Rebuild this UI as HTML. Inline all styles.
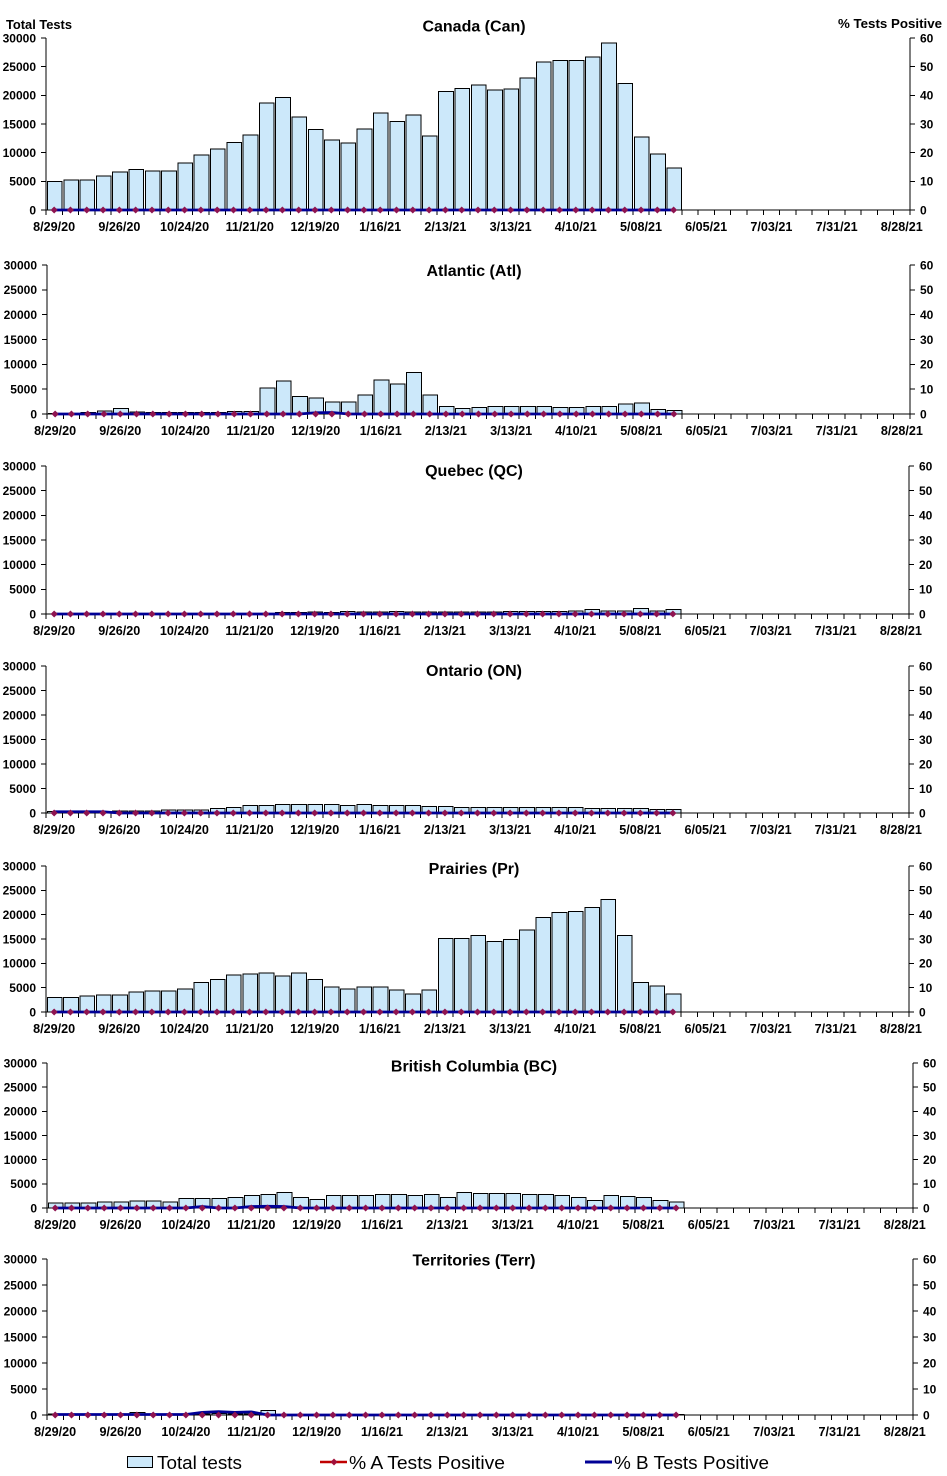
<!DOCTYPE html>
<html><head><meta charset="utf-8">
<style>
html,body{margin:0;padding:0;background:#fff;}
svg{display:block;}
text{font-family:"Liberation Sans",Arial,sans-serif;fill:#000;}
.yl{font-weight:bold;font-size:12px;text-anchor:end;}
.yr{font-weight:bold;font-size:12px;text-anchor:start;}
.xl{font-weight:bold;font-size:12.6px;text-anchor:middle;}
.ti{font-weight:bold;font-size:16px;text-anchor:middle;}
.lg{font-size:18px;}
.bar{fill:#cce8fa;stroke:#000;stroke-width:1;shape-rendering:crispEdges;}
.ax{fill:none;stroke:#000;stroke-width:1;shape-rendering:crispEdges;}
.bl{fill:none;stroke:#000096;stroke-width:2.8;}
</style></head>
<body>
<svg width="947" height="1476" viewBox="0 0 947 1476" xmlns="http://www.w3.org/2000/svg">
<defs>
<path id="tk" fill="none" stroke="#000" stroke-width="1" shape-rendering="crispEdges" vector-effect="non-scaling-stroke" d="M0 0v5M1 0v5M2 0v5M3 0v5M4 0v5M5 0v5M6 0v5M7 0v5M8 0v5M9 0v5M10 0v5M11 0v5M12 0v5M13 0v5M14 0v5M15 0v5M16 0v5M17 0v5M18 0v5M19 0v5M20 0v5M21 0v5M22 0v5M23 0v5M24 0v5M25 0v5M26 0v5M27 0v5M28 0v5M29 0v5M30 0v5M31 0v5M32 0v5M33 0v5M34 0v5M35 0v5M36 0v5M37 0v5M38 0v5M39 0v5M40 0v5M41 0v5M42 0v5M43 0v5M44 0v5M45 0v5M46 0v5M47 0v5M48 0v5M49 0v5M50 0v5M51 0v5M52 0v5M53 0v5"/>
<path id="dm" fill="#8e1450" d="M.5-3.5l.22 3.5-.22 3.5-.22-3.5zm1 0l.22 3.5-.22 3.5-.22-3.5zm1 0l.22 3.5-.22 3.5-.22-3.5zm1 0l.22 3.5-.22 3.5-.22-3.5zm1 0l.22 3.5-.22 3.5-.22-3.5zm1 0l.22 3.5-.22 3.5-.22-3.5zm1 0l.22 3.5-.22 3.5-.22-3.5zm1 0l.22 3.5-.22 3.5-.22-3.5zm1 0l.22 3.5-.22 3.5-.22-3.5zm1 0l.22 3.5-.22 3.5-.22-3.5zm1 0l.22 3.5-.22 3.5-.22-3.5zm1 0l.22 3.5-.22 3.5-.22-3.5zm1 0l.22 3.5-.22 3.5-.22-3.5zm1 0l.22 3.5-.22 3.5-.22-3.5zm1 0l.22 3.5-.22 3.5-.22-3.5zm1 0l.22 3.5-.22 3.5-.22-3.5zm1 0l.22 3.5-.22 3.5-.22-3.5zm1 0l.22 3.5-.22 3.5-.22-3.5zm1 0l.22 3.5-.22 3.5-.22-3.5zm1 0l.22 3.5-.22 3.5-.22-3.5zm1 0l.22 3.5-.22 3.5-.22-3.5zm1 0l.22 3.5-.22 3.5-.22-3.5zm1 0l.22 3.5-.22 3.5-.22-3.5zm1 0l.22 3.5-.22 3.5-.22-3.5zm1 0l.22 3.5-.22 3.5-.22-3.5zm1 0l.22 3.5-.22 3.5-.22-3.5zm1 0l.22 3.5-.22 3.5-.22-3.5zm1 0l.22 3.5-.22 3.5-.22-3.5zm1 0l.22 3.5-.22 3.5-.22-3.5zm1 0l.22 3.5-.22 3.5-.22-3.5zm1 0l.22 3.5-.22 3.5-.22-3.5zm1 0l.22 3.5-.22 3.5-.22-3.5zm1 0l.22 3.5-.22 3.5-.22-3.5zm1 0l.22 3.5-.22 3.5-.22-3.5zm1 0l.22 3.5-.22 3.5-.22-3.5zm1 0l.22 3.5-.22 3.5-.22-3.5zm1 0l.22 3.5-.22 3.5-.22-3.5zm1 0l.22 3.5-.22 3.5-.22-3.5zm1 0l.22 3.5-.22 3.5-.22-3.5z"/>
</defs>
<rect width="947" height="1476" fill="#fff"/>

<text x="6" y="29" style="font-weight:bold;font-size:13px" textLength="66" lengthAdjust="spacingAndGlyphs">Total Tests</text>
<text x="838" y="28" style="font-weight:bold;font-size:13px" textLength="104" lengthAdjust="spacingAndGlyphs">% Tests Positive</text>

<!-- Panel 1: Canada -->
<text class="ti" x="474" y="31.5">Canada (Can)</text>
<g transform="translate(46,210)">
 <g transform="scale(16.302,-5.733)">
  <path class="bar" vector-effect="non-scaling-stroke" d="M.09 0v5h.9v-5zm1 0v5.2h.9v-5.2zm1 0v5.2h.9v-5.2zm1 0v5.9h.9v-5.9zm1 0v6.6h.9v-6.6zm1 0v7.1h.9v-7.1zm1 0v6.8h.9v-6.8zm1 0v6.8h.9v-6.8zm1 0v8.2h.9v-8.2zm1 0v9.6h.9v-9.6zm1 0v10.6h.9v-10.6zm1 0v11.8h.9v-11.8zm1 0v13.1h.9v-13.1zm1 0v18.7h.9v-18.7zm1 0v19.6h.9v-19.6zm1 0v16.2h.9v-16.2zm1 0v14h.9v-14zm1 0v12.2h.9v-12.2zm1 0v11.7h.9v-11.7zm1 0v14.1h.9v-14.1zm1 0v16.9h.9v-16.9zm1 0v15.4h.9v-15.4zm1 0v16.6h.9v-16.6zm1 0v12.9h.9v-12.9zm1 0v20.7h.9v-20.7zm1 0v21.2h.9v-21.2zm1 0v21.8h.9v-21.8zm1 0v20.9h.9v-20.9zm1 0v21.1h.9v-21.1zm1 0v23h.9v-23zm1 0v25.8h.9v-25.8zm1 0v26.1h.9v-26.1zm1 0v26.1h.9v-26.1zm1 0v26.7h.9v-26.7zm1 0v29.1h.9v-29.1zm1 0v22.1h.9v-22.1zm1 0v12.7h.9v-12.7zm1 0v9.8h.9v-9.8zm1 0v7.3h.9v-7.3z"/>
 </g>
 <path class="ax" d="M0-172V0H864V-172M-5 0H0M-5-28.67H0M-5-57.33H0M-5-86H0M-5-114.67H0M-5-143.33H0M-5-172H0M864 0h5M864-28.67h5M864-57.33h5M864-86h5M864-114.67h5M864-143.33h5M864-172h5"/>
 <g transform="scale(16.302,1)"><use href="#tk"/></g>
 <g transform="scale(16.302,-5.733)"><path class="bl" vector-effect="non-scaling-stroke" d="M.5 0H38.5"/></g>
 <g transform="scale(16.302,1)"><use href="#dm"/></g>
 <text class="yl" x="-10" y="4.3">0</text><text class="yl" x="-10" y="-24.4">5000</text><text class="yl" x="-10" y="-53">10000</text><text class="yl" x="-10" y="-81.7">15000</text><text class="yl" x="-10" y="-110.4">20000</text><text class="yl" x="-10" y="-139">25000</text><text class="yl" x="-10" y="-167.7">30000</text>
 <text class="yr" x="874" y="4.3">0</text><text class="yr" x="874" y="-24.4">10</text><text class="yr" x="874" y="-53">20</text><text class="yr" x="874" y="-81.7">30</text><text class="yr" x="874" y="-110.4">40</text><text class="yr" x="874" y="-139">50</text><text class="yr" x="874" y="-167.7">60</text>
 <text class="xl" x="8.15" y="21">8/29/20</text><text class="xl" x="73.36" y="21">9/26/20</text><text class="xl" x="138.57" y="21">10/24/20</text><text class="xl" x="203.78" y="21">11/21/20</text><text class="xl" x="268.99" y="21">12/19/20</text><text class="xl" x="334.2" y="21">1/16/21</text><text class="xl" x="399.4" y="21">2/13/21</text><text class="xl" x="464.6" y="21">3/13/21</text><text class="xl" x="529.8" y="21">4/10/21</text><text class="xl" x="595" y="21">5/08/21</text><text class="xl" x="660.2" y="21">6/05/21</text><text class="xl" x="725.4" y="21">7/03/21</text><text class="xl" x="790.6" y="21">7/31/21</text><text class="xl" x="855.8" y="21">8/28/21</text>
</g>

<!-- Panel 2: Atlantic -->
<text class="ti" x="474" y="276">Atlantic (Atl)</text>
<g transform="translate(47,414)">
 <g transform="scale(16.283,-4.967)">
  <path class="bar" vector-effect="non-scaling-stroke" d="M.09 0v.1h.9v-.1zm1 0v.1h.9v-.1zm1 0v.3h.9v-.3zm1 0v.6h.9v-.6zm1 0v1.1h.9v-1.1zm1 0v.4h.9v-.4zm1 0v.3h.9v-.3zm1 0v.3h.9v-.3zm1 0v.3h.9v-.3zm1 0v.3h.9v-.3zm1 0v.3h.9v-.3zm1 0v.5h.9v-.5zm1 0v.5h.9v-.5zm1 0v5.2h.9v-5.2zm1 0v6.6h.9v-6.6zm1 0v3.5h.9v-3.5zm1 0v3.2h.9v-3.2zm1 0v2.4h.9v-2.4zm1 0v2.4h.9v-2.4zm1 0v3.8h.9v-3.8zm1 0v6.8h.9v-6.8zm1 0v6h.9v-6zm1 0v8.4h.9v-8.4zm1 0v3.8h.9v-3.8zm1 0v1.55h.9v-1.55zm1 0v1.15h.9v-1.15zm1 0v1.35h.9v-1.35zm1 0v1.55h.9v-1.55zm1 0v1.55h.9v-1.55zm1 0v1.55h.9v-1.55zm1 0v1.55h.9v-1.55zm1 0v1.35h.9v-1.35zm1 0v1.35h.9v-1.35zm1 0v1.55h.9v-1.55zm1 0v1.55h.9v-1.55zm1 0v2h.9v-2zm1 0v2.2h.9v-2.2zm1 0v.95h.9v-.95zm1 0v.75h.9v-.75z"/>
 </g>
 <path class="ax" d="M0-149V0H863V-149M-5 0H0M-5-24.83H0M-5-49.67H0M-5-74.5H0M-5-99.33H0M-5-124.17H0M-5-149H0M863 0h5M863-24.83h5M863-49.67h5M863-74.5h5M863-99.33h5M863-124.17h5M863-149h5"/>
 <g transform="scale(16.283,1)"><use href="#tk"/></g>
 <g transform="scale(16.283,-4.967)"><path class="bl" vector-effect="non-scaling-stroke" d="M.5 0H15.5L16.5 .25 17.5 .3 18.5 0H38.5"/></g>
 <g transform="scale(16.283,1)"><use href="#dm"/></g>
 <text class="yl" x="-10" y="4.3">0</text><text class="yl" x="-10" y="-20.5">5000</text><text class="yl" x="-10" y="-45.4">10000</text><text class="yl" x="-10" y="-70.2">15000</text><text class="yl" x="-10" y="-95">20000</text><text class="yl" x="-10" y="-119.9">25000</text><text class="yl" x="-10" y="-144.7">30000</text>
 <text class="yr" x="873" y="4.3">0</text><text class="yr" x="873" y="-20.5">10</text><text class="yr" x="873" y="-45.4">20</text><text class="yr" x="873" y="-70.2">30</text><text class="yr" x="873" y="-95">40</text><text class="yr" x="873" y="-119.9">50</text><text class="yr" x="873" y="-144.7">60</text>
 <text class="xl" x="8.14" y="21">8/29/20</text><text class="xl" x="73.27" y="21">9/26/20</text><text class="xl" x="138.4" y="21">10/24/20</text><text class="xl" x="203.5" y="21">11/21/20</text><text class="xl" x="268.7" y="21">12/19/20</text><text class="xl" x="333.8" y="21">1/16/21</text><text class="xl" x="398.9" y="21">2/13/21</text><text class="xl" x="464.1" y="21">3/13/21</text><text class="xl" x="529.2" y="21">4/10/21</text><text class="xl" x="594.3" y="21">5/08/21</text><text class="xl" x="659.5" y="21">6/05/21</text><text class="xl" x="724.6" y="21">7/03/21</text><text class="xl" x="789.7" y="21">7/31/21</text><text class="xl" x="854.9" y="21">8/28/21</text>
</g>

<!-- Panel 3: Quebec -->
<text class="ti" x="474" y="476">Quebec (QC)</text>
<g transform="translate(46,614)">
 <g transform="scale(16.283,-4.933)">
  <path class="bar" vector-effect="non-scaling-stroke" d="M.09 0v.05h.9v-.05zm1 0v.05h.9v-.05zm1 0v.05h.9v-.05zm1 0v.05h.9v-.05zm1 0v.05h.9v-.05zm1 0v.05h.9v-.05zm1 0v.05h.9v-.05zm1 0v.05h.9v-.05zm1 0v.05h.9v-.05zm1 0v.05h.9v-.05zm1 0v.05h.9v-.05zm1 0v.05h.9v-.05zm1 0v.05h.9v-.05zm1 0v.05h.9v-.05zm1 0v.3h.9v-.3zm1 0v.3h.9v-.3zm1 0v.4h.9v-.4zm1 0v.3h.9v-.3zm1 0v.5h.9v-.5zm1 0v.4h.9v-.4zm1 0v.4h.9v-.4zm1 0v.5h.9v-.5zm1 0v.4h.9v-.4zm1 0v.4h.9v-.4zm1 0v.4h.9v-.4zm1 0v.4h.9v-.4zm1 0v.4h.9v-.4zm1 0v.4h.9v-.4zm1 0v.5h.9v-.5zm1 0v.5h.9v-.5zm1 0v.5h.9v-.5zm1 0v.5h.9v-.5zm1 0v.6h.9v-.6zm1 0v.9h.9v-.9zm1 0v.6h.9v-.6zm1 0v.6h.9v-.6zm1 0v1.1h.9v-1.1zm1 0v.6h.9v-.6zm1 0v.9h.9v-.9z"/>
 </g>
 <path class="ax" d="M0-148V0H863V-148M-5 0H0M-5-24.67H0M-5-49.33H0M-5-74H0M-5-98.67H0M-5-123.33H0M-5-148H0M863 0h5M863-24.67h5M863-49.33h5M863-74h5M863-98.67h5M863-123.33h5M863-148h5"/>
 <g transform="scale(16.283,1)"><use href="#tk"/></g>
 <g transform="scale(16.283,-4.933)"><path class="bl" vector-effect="non-scaling-stroke" d="M.5 0H38.5"/></g>
 <g transform="scale(16.283,1)"><use href="#dm"/></g>
 <text class="yl" x="-10" y="4.3">0</text><text class="yl" x="-10" y="-20.4">5000</text><text class="yl" x="-10" y="-45">10000</text><text class="yl" x="-10" y="-69.7">15000</text><text class="yl" x="-10" y="-94.4">20000</text><text class="yl" x="-10" y="-119">25000</text><text class="yl" x="-10" y="-143.7">30000</text>
 <text class="yr" x="873" y="4.3">0</text><text class="yr" x="873" y="-20.4">10</text><text class="yr" x="873" y="-45">20</text><text class="yr" x="873" y="-69.7">30</text><text class="yr" x="873" y="-94.4">40</text><text class="yr" x="873" y="-119">50</text><text class="yr" x="873" y="-143.7">60</text>
 <text class="xl" x="8.14" y="21">8/29/20</text><text class="xl" x="73.27" y="21">9/26/20</text><text class="xl" x="138.4" y="21">10/24/20</text><text class="xl" x="203.5" y="21">11/21/20</text><text class="xl" x="268.7" y="21">12/19/20</text><text class="xl" x="333.8" y="21">1/16/21</text><text class="xl" x="398.9" y="21">2/13/21</text><text class="xl" x="464.1" y="21">3/13/21</text><text class="xl" x="529.2" y="21">4/10/21</text><text class="xl" x="594.3" y="21">5/08/21</text><text class="xl" x="659.5" y="21">6/05/21</text><text class="xl" x="724.6" y="21">7/03/21</text><text class="xl" x="789.7" y="21">7/31/21</text><text class="xl" x="854.9" y="21">8/28/21</text>
</g>

<!-- Panel 4: Ontario -->
<text class="ti" x="474" y="676">Ontario (ON)</text>
<g transform="translate(46,813)">
 <g transform="scale(16.283,-4.9)">
  <path class="bar" vector-effect="non-scaling-stroke" d="M.09 0v.3h.9v-.3zm1 0v.3h.9v-.3zm1 0v.3h.9v-.3zm1 0v.3h.9v-.3zm1 0v.45h.9v-.45zm1 0v.45h.9v-.45zm1 0v.45h.9v-.45zm1 0v.6h.9v-.6zm1 0v.6h.9v-.6zm1 0v.6h.9v-.6zm1 0v.9h.9v-.9zm1 0v1.1h.9v-1.1zm1 0v1.5h.9v-1.5zm1 0v1.5h.9v-1.5zm1 0v1.7h.9v-1.7zm1 0v1.7h.9v-1.7zm1 0v1.7h.9v-1.7zm1 0v1.7h.9v-1.7zm1 0v1.5h.9v-1.5zm1 0v1.7h.9v-1.7zm1 0v1.5h.9v-1.5zm1 0v1.5h.9v-1.5zm1 0v1.5h.9v-1.5zm1 0v1.3h.9v-1.3zm1 0v1.3h.9v-1.3zm1 0v1.1h.9v-1.1zm1 0v1.1h.9v-1.1zm1 0v1.1h.9v-1.1zm1 0v1.1h.9v-1.1zm1 0v1.1h.9v-1.1zm1 0v1.1h.9v-1.1zm1 0v1.1h.9v-1.1zm1 0v1.1h.9v-1.1zm1 0v.9h.9v-.9zm1 0v.9h.9v-.9zm1 0v.9h.9v-.9zm1 0v.9h.9v-.9zm1 0v.7h.9v-.7zm1 0v.7h.9v-.7z"/>
 </g>
 <path class="ax" d="M0-147V0H863V-147M-5 0H0M-5-24.5H0M-5-49H0M-5-73.5H0M-5-98H0M-5-122.5H0M-5-147H0M863 0h5M863-24.5h5M863-49h5M863-73.5h5M863-98h5M863-122.5h5M863-147h5"/>
 <g transform="scale(16.283,1)"><use href="#tk"/></g>
 <g transform="scale(16.283,-4.9)"><path class="bl" vector-effect="non-scaling-stroke" d="M.5 .25L3.5 .25 4.5 0H38.5"/></g>
 <g transform="scale(16.283,1)"><use href="#dm"/></g>
 <text class="yl" x="-10" y="4.3">0</text><text class="yl" x="-10" y="-20.2">5000</text><text class="yl" x="-10" y="-44.7">10000</text><text class="yl" x="-10" y="-69.2">15000</text><text class="yl" x="-10" y="-93.7">20000</text><text class="yl" x="-10" y="-118.2">25000</text><text class="yl" x="-10" y="-142.7">30000</text>
 <text class="yr" x="873" y="4.3">0</text><text class="yr" x="873" y="-20.2">10</text><text class="yr" x="873" y="-44.7">20</text><text class="yr" x="873" y="-69.2">30</text><text class="yr" x="873" y="-93.7">40</text><text class="yr" x="873" y="-118.2">50</text><text class="yr" x="873" y="-142.7">60</text>
 <text class="xl" x="8.14" y="21">8/29/20</text><text class="xl" x="73.27" y="21">9/26/20</text><text class="xl" x="138.4" y="21">10/24/20</text><text class="xl" x="203.5" y="21">11/21/20</text><text class="xl" x="268.7" y="21">12/19/20</text><text class="xl" x="333.8" y="21">1/16/21</text><text class="xl" x="398.9" y="21">2/13/21</text><text class="xl" x="464.1" y="21">3/13/21</text><text class="xl" x="529.2" y="21">4/10/21</text><text class="xl" x="594.3" y="21">5/08/21</text><text class="xl" x="659.5" y="21">6/05/21</text><text class="xl" x="724.6" y="21">7/03/21</text><text class="xl" x="789.7" y="21">7/31/21</text><text class="xl" x="854.9" y="21">8/28/21</text>
</g>

<!-- Panel 5: Prairies -->
<text class="ti" x="474" y="874">Prairies (Pr)</text>
<g transform="translate(46,1012)">
 <g transform="scale(16.283,-4.867)">
  <path class="bar" vector-effect="non-scaling-stroke" d="M.09 0v3h.9v-3zm1 0v3h.9v-3zm1 0v3.3h.9v-3.3zm1 0v3.5h.9v-3.5zm1 0v3.5h.9v-3.5zm1 0v4.1h.9v-4.1zm1 0v4.3h.9v-4.3zm1 0v4.3h.9v-4.3zm1 0v4.7h.9v-4.7zm1 0v6.1h.9v-6.1zm1 0v6.7h.9v-6.7zm1 0v7.6h.9v-7.6zm1 0v7.8h.9v-7.8zm1 0v8h.9v-8zm1 0v7.4h.9v-7.4zm1 0v8h.9v-8zm1 0v6.7h.9v-6.7zm1 0v5.1h.9v-5.1zm1 0v4.7h.9v-4.7zm1 0v5.1h.9v-5.1zm1 0v5.1h.9v-5.1zm1 0v4.5h.9v-4.5zm1 0v3.7h.9v-3.7zm1 0v4.5h.9v-4.5zm1 0v15.1h.9v-15.1zm1 0v15.1h.9v-15.1zm1 0v15.7h.9v-15.7zm1 0v14.5h.9v-14.5zm1 0v14.9h.9v-14.9zm1 0v16.8h.9v-16.8zm1 0v19.4h.9v-19.4zm1 0v20.4h.9v-20.4zm1 0v20.7h.9v-20.7zm1 0v21.5h.9v-21.5zm1 0v23.1h.9v-23.1zm1 0v15.7h.9v-15.7zm1 0v6.1h.9v-6.1zm1 0v5.3h.9v-5.3zm1 0v3.7h.9v-3.7z"/>
 </g>
 <path class="ax" d="M0-146V0H863V-146M-5 0H0M-5-24.33H0M-5-48.67H0M-5-73H0M-5-97.33H0M-5-121.67H0M-5-146H0M863 0h5M863-24.33h5M863-48.67h5M863-73h5M863-97.33h5M863-121.67h5M863-146h5"/>
 <g transform="scale(16.283,1)"><use href="#tk"/></g>
 <g transform="scale(16.283,-4.867)"><path class="bl" vector-effect="non-scaling-stroke" d="M.5 0H38.5"/></g>
 <g transform="scale(16.283,1)"><use href="#dm"/></g>
 <text class="yl" x="-10" y="4.3">0</text><text class="yl" x="-10" y="-20">5000</text><text class="yl" x="-10" y="-44.4">10000</text><text class="yl" x="-10" y="-68.7">15000</text><text class="yl" x="-10" y="-93">20000</text><text class="yl" x="-10" y="-117.4">25000</text><text class="yl" x="-10" y="-141.7">30000</text>
 <text class="yr" x="873" y="4.3">0</text><text class="yr" x="873" y="-20">10</text><text class="yr" x="873" y="-44.4">20</text><text class="yr" x="873" y="-68.7">30</text><text class="yr" x="873" y="-93">40</text><text class="yr" x="873" y="-117.4">50</text><text class="yr" x="873" y="-141.7">60</text>
 <text class="xl" x="8.14" y="21">8/29/20</text><text class="xl" x="73.27" y="21">9/26/20</text><text class="xl" x="138.4" y="21">10/24/20</text><text class="xl" x="203.5" y="21">11/21/20</text><text class="xl" x="268.7" y="21">12/19/20</text><text class="xl" x="333.8" y="21">1/16/21</text><text class="xl" x="398.9" y="21">2/13/21</text><text class="xl" x="464.1" y="21">3/13/21</text><text class="xl" x="529.2" y="21">4/10/21</text><text class="xl" x="594.3" y="21">5/08/21</text><text class="xl" x="659.5" y="21">6/05/21</text><text class="xl" x="724.6" y="21">7/03/21</text><text class="xl" x="789.7" y="21">7/31/21</text><text class="xl" x="854.9" y="21">8/28/21</text>
</g>

<!-- Panel 6: British Columbia -->
<text class="ti" x="474" y="1071.5">British Columbia (BC)</text>
<g transform="translate(47,1208)">
 <g transform="scale(16.34,-4.833)">
  <path class="bar" vector-effect="non-scaling-stroke" d="M.09 0v1h.9v-1zm1 0v1h.9v-1zm1 0v1h.9v-1zm1 0v1.2h.9v-1.2zm1 0v1.2h.9v-1.2zm1 0v1.4h.9v-1.4zm1 0v1.4h.9v-1.4zm1 0v1.2h.9v-1.2zm1 0v2h.9v-2zm1 0v2h.9v-2zm1 0v2h.9v-2zm1 0v2.2h.9v-2.2zm1 0v2.6h.9v-2.6zm1 0v2.8h.9v-2.8zm1 0v3.2h.9v-3.2zm1 0v2.2h.9v-2.2zm1 0v1.8h.9v-1.8zm1 0v2.6h.9v-2.6zm1 0v2.6h.9v-2.6zm1 0v2.6h.9v-2.6zm1 0v2.8h.9v-2.8zm1 0v2.8h.9v-2.8zm1 0v2.6h.9v-2.6zm1 0v2.8h.9v-2.8zm1 0v2.2h.9v-2.2zm1 0v3.2h.9v-3.2zm1 0v3h.9v-3zm1 0v3h.9v-3zm1 0v3h.9v-3zm1 0v2.8h.9v-2.8zm1 0v2.8h.9v-2.8zm1 0v2.6h.9v-2.6zm1 0v2.2h.9v-2.2zm1 0v1.6h.9v-1.6zm1 0v2.6h.9v-2.6zm1 0v2.4h.9v-2.4zm1 0v2.2h.9v-2.2zm1 0v1.6h.9v-1.6zm1 0v1.2h.9v-1.2z"/>
 </g>
 <path class="ax" d="M0-145V0H866V-145M-5 0H0M-5-24.17H0M-5-48.33H0M-5-72.5H0M-5-96.67H0M-5-120.83H0M-5-145H0M866 0h5M866-24.17h5M866-48.33h5M866-72.5h5M866-96.67h5M866-120.83h5M866-145h5"/>
 <g transform="scale(16.34,1)"><use href="#tk"/></g>
 <g transform="scale(16.34,-4.833)"><path class="bl" vector-effect="non-scaling-stroke" d="M.5 0H8.5L9.5 .3 10.5 0 11.5 0 12.5 .3 13.5 .35 14.5 .3 15.5 0H38.5"/></g>
 <g transform="scale(16.34,1)"><use href="#dm"/></g>
 <text class="yl" x="-10" y="4.3">0</text><text class="yl" x="-10" y="-19.9">5000</text><text class="yl" x="-10" y="-44">10000</text><text class="yl" x="-10" y="-68.2">15000</text><text class="yl" x="-10" y="-92.4">20000</text><text class="yl" x="-10" y="-116.5">25000</text><text class="yl" x="-10" y="-140.7">30000</text>
 <text class="yr" x="876" y="4.3">0</text><text class="yr" x="876" y="-19.9">10</text><text class="yr" x="876" y="-44">20</text><text class="yr" x="876" y="-68.2">30</text><text class="yr" x="876" y="-92.4">40</text><text class="yr" x="876" y="-116.5">50</text><text class="yr" x="876" y="-140.7">60</text>
 <text class="xl" x="8.17" y="21">8/29/20</text><text class="xl" x="73.53" y="21">9/26/20</text><text class="xl" x="138.9" y="21">10/24/20</text><text class="xl" x="204.25" y="21">11/21/20</text><text class="xl" x="269.6" y="21">12/19/20</text><text class="xl" x="335" y="21">1/16/21</text><text class="xl" x="400.3" y="21">2/13/21</text><text class="xl" x="465.7" y="21">3/13/21</text><text class="xl" x="531" y="21">4/10/21</text><text class="xl" x="596.4" y="21">5/08/21</text><text class="xl" x="661.8" y="21">6/05/21</text><text class="xl" x="727.1" y="21">7/03/21</text><text class="xl" x="792.5" y="21">7/31/21</text><text class="xl" x="857.8" y="21">8/28/21</text>
</g>

<!-- Panel 7: Territories -->
<text class="ti" x="474" y="1265.5">Territories (Terr)</text>
<g transform="translate(47,1415)">
 <g transform="scale(16.34,-5.2)">
  <path class="bar" vector-effect="non-scaling-stroke" d="M.09 0v.2h.9v-.2zm1 0v.2h.9v-.2zm1 0v.2h.9v-.2zm1 0v.2h.9v-.2zm1 0v.2h.9v-.2zm1 0v.5h.9v-.5zm1 0v.2h.9v-.2zm1 0v.1h.9v-.1zm1 0v.1h.9v-.1zm1 0v.2h.9v-.2zm1 0v.3h.9v-.3zm1 0v.2h.9v-.2zm1 0v.2h.9v-.2zm1 0v.9h.9v-.9zm1 0v.1h.9v-.1zm1 0v.05h.9v-.05zm1 0v.05h.9v-.05zm1 0v.05h.9v-.05zm1 0v.05h.9v-.05zm1 0v.05h.9v-.05zm1 0v.05h.9v-.05zm1 0v.05h.9v-.05zm1 0v.05h.9v-.05zm1 0v.05h.9v-.05zm1 0v.05h.9v-.05zm1 0v.05h.9v-.05zm1 0v.05h.9v-.05zm1 0v.05h.9v-.05zm1 0v.05h.9v-.05zm1 0v.05h.9v-.05zm1 0v.05h.9v-.05zm1 0v.05h.9v-.05zm1 0v.05h.9v-.05zm1 0v.05h.9v-.05zm1 0v.05h.9v-.05zm1 0v.05h.9v-.05zm1 0v.05h.9v-.05zm1 0v.05h.9v-.05zm1 0v.05h.9v-.05z"/>
 </g>
 <path class="ax" d="M0-156V0H866V-156M-5 0H0M-5-26H0M-5-52H0M-5-78H0M-5-104H0M-5-130H0M-5-156H0M866 0h5M866-26h5M866-52h5M866-78h5M866-104h5M866-130h5M866-156h5"/>
 <g transform="scale(16.34,1)"><use href="#tk"/></g>
 <g transform="scale(16.34,-5.2)"><path class="bl" vector-effect="non-scaling-stroke" d="M.5 .1H8.5L9.5 .5 10.5 .65 11.5 .5 12.5 .6 13.5 0H38.5"/></g>
 <g transform="scale(16.34,1)"><use href="#dm"/></g>
 <text class="yl" x="-10" y="4.3">0</text><text class="yl" x="-10" y="-21.7">5000</text><text class="yl" x="-10" y="-47.7">10000</text><text class="yl" x="-10" y="-73.7">15000</text><text class="yl" x="-10" y="-99.7">20000</text><text class="yl" x="-10" y="-125.7">25000</text><text class="yl" x="-10" y="-151.7">30000</text>
 <text class="yr" x="876" y="4.3">0</text><text class="yr" x="876" y="-21.7">10</text><text class="yr" x="876" y="-47.7">20</text><text class="yr" x="876" y="-73.7">30</text><text class="yr" x="876" y="-99.7">40</text><text class="yr" x="876" y="-125.7">50</text><text class="yr" x="876" y="-151.7">60</text>
 <text class="xl" x="8.17" y="21">8/29/20</text><text class="xl" x="73.53" y="21">9/26/20</text><text class="xl" x="138.9" y="21">10/24/20</text><text class="xl" x="204.25" y="21">11/21/20</text><text class="xl" x="269.6" y="21">12/19/20</text><text class="xl" x="335" y="21">1/16/21</text><text class="xl" x="400.3" y="21">2/13/21</text><text class="xl" x="465.7" y="21">3/13/21</text><text class="xl" x="531" y="21">4/10/21</text><text class="xl" x="596.4" y="21">5/08/21</text><text class="xl" x="661.8" y="21">6/05/21</text><text class="xl" x="727.1" y="21">7/03/21</text><text class="xl" x="792.5" y="21">7/31/21</text><text class="xl" x="857.8" y="21">8/28/21</text>
</g>

<!-- Legend -->
<rect x="127.5" y="1456.5" width="25" height="11" fill="#cce8fa" stroke="#000" stroke-width="1" shape-rendering="crispEdges"/>
<text class="lg" x="157" y="1469" textLength="85" lengthAdjust="spacingAndGlyphs">Total tests</text>
<path d="M320 1462H347" stroke="#c00000" stroke-width="2.5"/>
<path d="M334 1458.5l3.5 3.5-3.5 3.5-3.5-3.5z" fill="#a0103a"/>
<text class="lg" x="349" y="1469" textLength="156" lengthAdjust="spacingAndGlyphs">% A Tests Positive</text>
<path d="M585 1462H612" stroke="#000096" stroke-width="3"/>
<text class="lg" x="614" y="1469" textLength="155" lengthAdjust="spacingAndGlyphs">% B Tests Positive</text>
</svg>
</body></html>
